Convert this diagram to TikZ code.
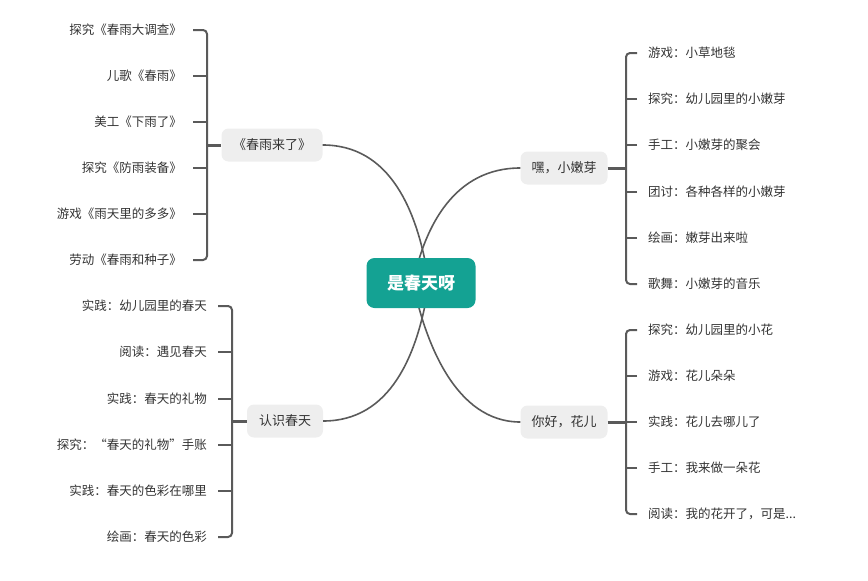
\documentclass[tikz,border=0pt]{standalone}
\usepackage{fontspec}
\setmainfont{Noto Sans CJK SC}
\definecolor{teal1}{HTML}{14A293}
\definecolor{bfill}{HTML}{EEEEEE}
\definecolor{txt}{HTML}{333333}
\definecolor{ln}{HTML}{5A5A5A}
\begin{document}
\begin{tikzpicture}[x=1pt,y=-1pt,
  root/.style={fill=teal1,rounded corners=8pt,minimum width=109pt,minimum height=50pt,text=white,font=\fontsize{17}{20}\selectfont\bfseries,inner sep=0pt},
  branch/.style={fill=bfill,rounded corners=7pt,minimum height=33pt,text=txt,font=\fontsize{13}{15}\selectfont,inner sep=0pt},
  leafL/.style={anchor=east,inner xsep=11pt,inner ysep=0pt,text=txt,font=\fontsize{12.5}{14}\selectfont},
  leafR/.style={anchor=west,inner xsep=11pt,inner ysep=0pt,text=txt,font=\fontsize{12.5}{14}\selectfont},
  curve/.style={draw=ln,line width=1.6pt},
  bracket/.style={draw=ln,line width=2pt,rounded corners=4pt},
  stem/.style={draw=ln,line width=3pt}]
\useasboundingbox (0,0) rectangle (868,581);

% branch nodes
\node[branch,minimum width=101pt] (b1) at (272,145) {《春雨来了》};
\node[branch,minimum width=87pt] (b2) at (564,168) {嘿，小嫩芽};
\node[branch,minimum width=87pt] (b3) at (564,422) {你好，花儿};
\node[branch,minimum width=76pt] (b4) at (285,421) {认识春天};

% root
\coordinate (rc) at (421,283);
\draw[curve] (b1.east) .. controls (390,145) and (418,210) .. ([xshift=8pt]rc);
\draw[curve] (b2.west) .. controls (455,168) and (425,225) .. ([xshift=-8pt]rc);
\draw[curve] (b4.east) .. controls (390,421) and (418,356) .. ([xshift=8pt]rc);
\draw[curve] (b3.west) .. controls (455,422) and (425,341) .. ([xshift=-8pt]rc);
\node[root] (c) at (rc) {是春天呀};

% junctions
\coordinate (j1) at (207,145);
\coordinate (j2) at (626,168);
\coordinate (j3) at (626,422);
\coordinate (j4) at (232,421);

% left top leaves
\node[leafL] (l1) at (193,30) {探究《春雨大调查》};
\node[leafL] (l2) at (193,76) {儿歌《春雨》};
\node[leafL] (l3) at (193,122) {美工《下雨了》};
\node[leafL] (l4) at (193,168) {探究《防雨装备》};
\node[leafL] (l5) at (193,214) {游戏《雨天里的多多》};
\node[leafL] (l6) at (193,260) {劳动《春雨和种子》};
\draw[bracket] (l1.east) -| (j1) |- (l6.east);
\foreach \n in {l2,l3,l4,l5} \draw[bracket] (\n.east) -- (\n.east -| j1);
\draw[stem] (j1) -- (b1.west);

% right top leaves
\node[leafR] (r1) at (637,53) {游戏：小草地毯};
\node[leafR] (r2) at (637,99) {探究：幼儿园里的小嫩芽};
\node[leafR] (r3) at (637,145) {手工：小嫩芽的聚会};
\node[leafR] (r4) at (637,192) {团讨：各种各样的小嫩芽};
\node[leafR] (r5) at (637,238) {绘画：嫩芽出来啦};
\node[leafR] (r6) at (637,284) {歌舞：小嫩芽的音乐};
\draw[bracket] (r1.west) -| (j2) |- (r6.west);
\foreach \n in {r2,r3,r4,r5} \draw[bracket] (\n.west) -- (\n.west -| j2);
\draw[stem] (b2.east) -- (j2);

% right bottom leaves
\node[leafR] (s1) at (637,330) {探究：幼儿园里的小花};
\node[leafR] (s2) at (637,376) {游戏：花儿朵朵};
\node[leafR] (s3) at (637,422) {实践：花儿去哪儿了};
\node[leafR] (s4) at (637,468) {手工：我来做一朵花};
\node[leafR] (s5) at (637,514) {阅读：我的花开了，可是...};
\draw[bracket] (s1.west) -| (j3) |- (s5.west);
\foreach \n in {s2,s4} \draw[bracket] (\n.west) -- (\n.west -| j3);
\draw[stem] (b3.east) -- (j3);
\draw[bracket] (j3) -- (s3.west);

% left bottom leaves
\node[leafL] (t1) at (218,306) {实践：幼儿园里的春天};
\node[leafL] (t2) at (218,352) {阅读：遇见春天};
\node[leafL] (t3) at (218,399) {实践：春天的礼物};
\node[leafL] (t4) at (218,445) {探究：“春天的礼物”手账};
\node[leafL] (t5) at (218,491) {实践：春天的色彩在哪里};
\node[leafL] (t6) at (218,537) {绘画：春天的色彩};
\draw[bracket] (t1.east) -| (j4) |- (t6.east);
\foreach \n in {t2,t3,t4,t5} \draw[bracket] (\n.east) -- (\n.east -| j4);
\draw[stem] (j4) -- (b4.west);
\end{tikzpicture}
\end{document}
